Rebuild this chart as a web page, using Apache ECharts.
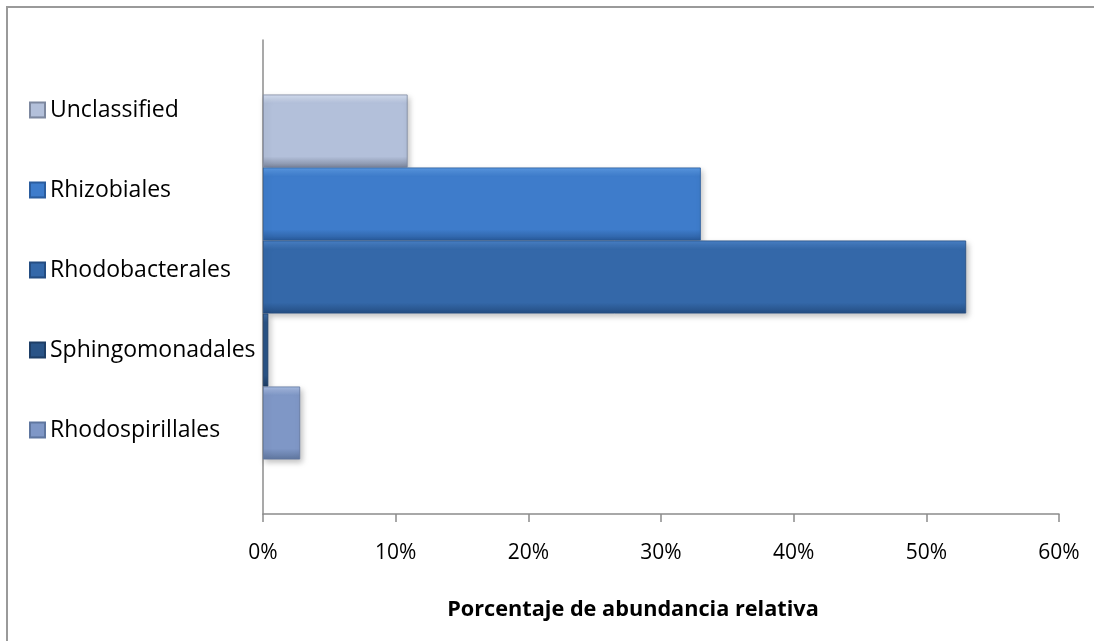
<!DOCTYPE html>
<html><head><meta charset="utf-8">
<script src="https://cdn.jsdelivr.net/npm/echarts@6/dist/echarts.min.js"></script>
<style>html,body{margin:0;padding:0;background:#fff}#c{width:1094px;height:641px}</style>
</head><body><div id="c"></div>
<script>
// Series names (top to bottom) and their values (%)
const seriesNames = ['Unclassified','Rhizobiales','Rhodobacterales','Sphingomonadales','Rhodospirillales'];
const seriesValues = [10.9, 33.0, 53.0, 0.4, 2.8];
const categories = [''];
const xTicks = [0, 10, 20, 30, 40, 50, 60];
const axisTitle = 'Porcentaje de abundancia relativa';

const palette = {
  'Rhodospirillales': ['#a9bde3', '#7f97c6', '#5f769f'],
  'Sphingomonadales': ['#3f6ea8', '#2a5487', '#1e3e66'],
  'Rhodobacterales': ['#4a82c8', '#3468a9', '#244d82'],
  'Rhizobiales': ['#5a9ae4', '#3e7ccb', '#2b5d9e'],
  'Unclassified': ['#d6e0f2', '#b3c0da', '#7d889f']
};
const FONT = 'Open Sans';
function grad(n){
  const c = palette[n];
  return new echarts.graphic.LinearGradient(0,0,0,1,[
    {offset:0,color:c[0]},{offset:0.12,color:c[1]},{offset:0.85,color:c[1]},{offset:1,color:c[2]}
  ]);
}
const chart = echarts.init(document.getElementById('c'));
chart.setOption({
  animation:false,
  graphic:[
    {type:'rect',shape:{x:7,y:7,width:1200,height:800},style:{fill:'none',stroke:'#9a9a9a',lineWidth:2},silent:true},
    {type:'text',x:633,y:610,style:{text:axisTitle,fontFamily:FONT,fontSize:21.7,fontWeight:'bold',fill:'#000',textAlign:'center',textVerticalAlign:'middle'}}
  ],
  legend:{
    orient:'vertical', left:24, top:93, itemWidth:15, itemHeight:15, itemGap:56,
    icon:'rect', data:seriesNames,
    textStyle:{fontFamily:FONT,fontSize:23,color:'#000',lineHeight:24}
  },
  grid:{left:263,right:35,top:40,bottom:127,containLabel:false},
  xAxis:{type:'value',min:xTicks[0],max:xTicks[xTicks.length-1],interval:10,
    axisLine:{show:true,lineStyle:{color:'#8c8c8c',width:1.5}},
    axisTick:{show:true,length:8,lineStyle:{color:'#8c8c8c',width:1.5}},
    splitLine:{show:false},
    axisLabel:{formatter:'{value}%',fontFamily:FONT,fontSize:21,color:'#000',margin:29}
  },
  yAxis:{type:'category',data:categories,
    axisLine:{show:true,lineStyle:{color:'#8c8c8c',width:1.5}},
    axisTick:{show:false},axisLabel:{show:false}},
  series: seriesNames.map((n,i)=>({
    name:n,type:'bar',data:[seriesValues[i]],barGap:'0%',barCategoryGap:'23%',
    itemStyle:{color:grad(n),borderColor:palette[n][2],borderWidth:0.8,
      shadowColor:'rgba(0,0,0,0.25)',shadowBlur:6,shadowOffsetX:2,shadowOffsetY:3}
  }))
});
</script></body></html>
